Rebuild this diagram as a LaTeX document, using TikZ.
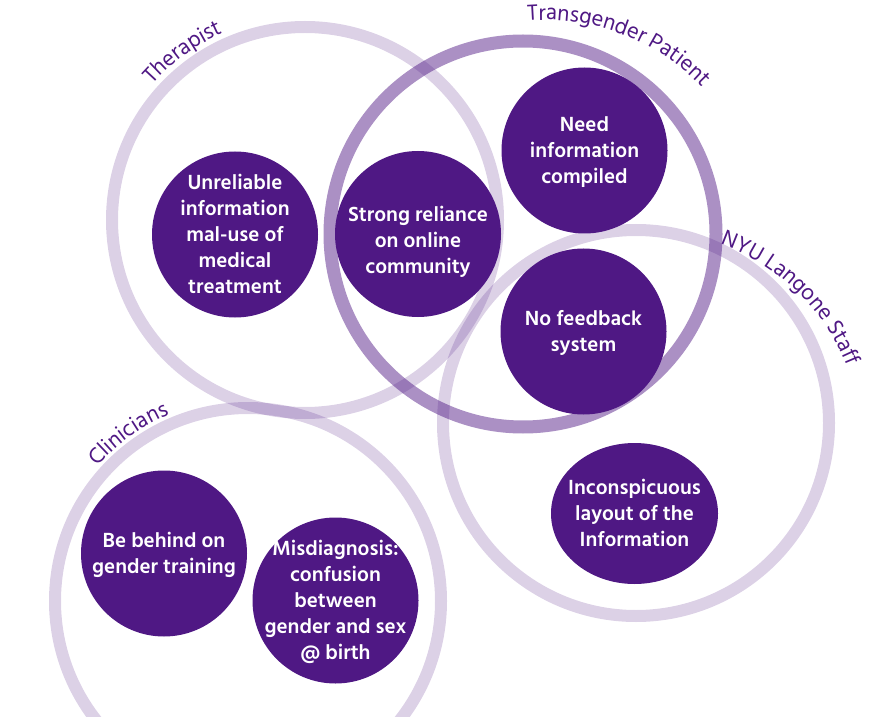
\documentclass[tikz,border=0pt]{standalone}
\usepackage{fontspec}
\setmainfont{Hind Siliguri}
\usepackage{xcolor}
\usetikzlibrary{positioning,shapes.geometric,decorations.text}
\definecolor{grape}{HTML}{4F1884}
% text that does not resize its bubble
\newcommand{\issuetext}[2][-7pt]{\raisebox{#1}[0pt][0pt]{\makebox[0pt]{\begin{tabular}{@{}c@{}}#2\end{tabular}}}}

\begin{document}
\begin{tikzpicture}[x=1pt,y=1pt,
                    ring/.style={circle,draw=grape,draw opacity=0.2,line width=12,minimum size=386,inner sep=0},
                    core ring/.style={ring,draw opacity=0.48,line width=13},
                    main node/.style={circle,fill=grape,text=white,minimum size=166,inner sep=0,
                                      font=\fontsize{21}{26}\selectfont\bfseries},
                    ring label/.style={decorate,decoration={text along path,text align=center,text color=grape}}]

  \useasboundingbox (0,0) rectangle (872,716);

  % stakeholder rings
  \node[ring] (therapist) at (305,496) {};
  \node[core ring] (patient) at (523,482) {};
  \node[ring] (staff) at (636,293) {};
  \node[ring] (clinicians) at (248,115) {};

  % pain points
  \node[main node] (unreliable) at (235,481.5) {\issuetext{Unreliable\\information\\mal-use of\\medical\\treatment}};
  \node[main node] (reliance) at (418,482) {\issuetext[-13pt]{Strong reliance\\on online\\community}};
  \node[main node] (compiled) at (584.5,565.5) {\issuetext{Need\\information\\compiled}};
  \node[main node] (feedback) at (583.5,384.5) {\issuetext{No feedback\\system}};
  \node[main node,ellipse,minimum width=167,minimum height=141] (layout) at (634.5,202.5) {\issuetext{Inconspicuous\\layout of the\\Information}};
  \node[main node] (training) at (164,162.5) {\issuetext{Be behind on\\gender training}};
  \node[main node] (diagnosis) at (335.5,115.5) {\issuetext{Misdiagnosis:\\confusion\\between\\gender and sex\\@ birth}};

  % ring names
  \path[ring label,decoration={text={|\fontsize{22.5}{26}\selectfont|Therapist}}]
    (therapist.center) ++(156:204) arc[start angle=156,end angle=96,radius=204];
  \path[ring label,decoration={text={|\fontsize{22.5}{26}\selectfont|Transgender Patient}}]
    (545,480) ++(99:216) arc[start angle=99,end angle=39,radius=216];
  \path[ring label,decoration={text={|\fontsize{22.5}{26}\selectfont|NYU Langone Staff}}]
    (647,269) ++(76:216) arc[start angle=76,end angle=16,radius=216];
  \path[ring label,decoration={text={|\fontsize{22.5}{26}\selectfont|Clinicians}}]
    (clinicians.center) ++(155.5:202) arc[start angle=155.5,end angle=95.5,radius=202];

\end{tikzpicture}
\end{document}
